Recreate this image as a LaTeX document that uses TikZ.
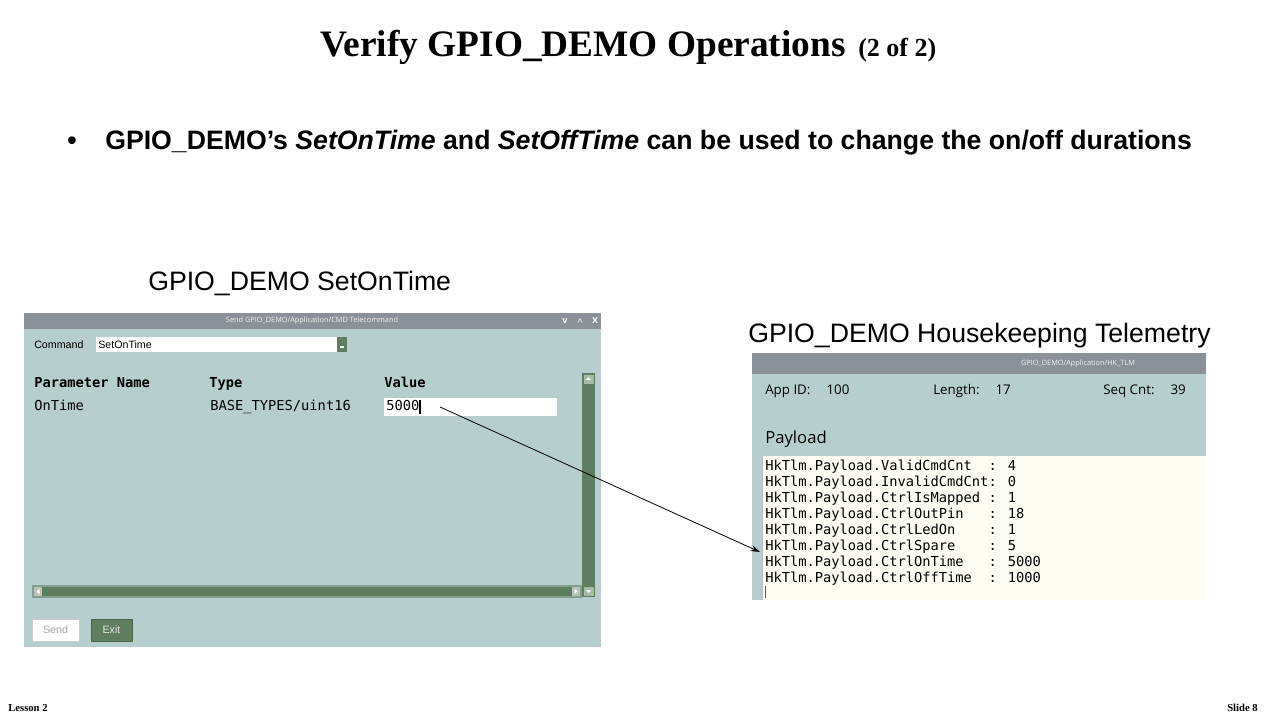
\documentclass[tikz,border=0pt]{standalone}
\usepackage{fontspec}
\setmainfont{Liberation Serif}
\setsansfont{Liberation Sans}
\newfontfamily\dvmono{DejaVu Sans Mono}
\newfontfamily\uisans{Open Sans}
\usetikzlibrary{arrows.meta}
\definecolor{winteal}{HTML}{B7CECF}
\definecolor{wingray}{HTML}{8A9198}
\definecolor{wingreen}{HTML}{5F7E5F}
\definecolor{wincream}{HTML}{FDFDF4}
\begin{document}
\begin{tikzpicture}[x=0.75pt,y=-0.75pt,
  txt/.style={inner sep=0pt, anchor=base west},
  mono/.style={txt, font=\dvmono\fontsize{10.3}{12}\selectfont},
  monob/.style={txt, font=\dvmono\bfseries\fontsize{10.3}{12}\selectfont},
  ui/.style={inner sep=0pt, anchor=west, font=\uisans\fontsize{10}{12}\selectfont},
  tiny/.style={inner sep=0pt, font=\uisans\fontsize{5.5}{6}\selectfont, text=white!90!gray},
  lbl/.style={txt, font=\sffamily\fontsize{20}{24}\selectfont}]
\useasboundingbox (0,0) rectangle (1280,720);
\fill[white] (0,0) rectangle (1280,720);

% title
\node[txt, font=\rmfamily\bfseries\fontsize{28}{32}\selectfont] (title) at (320,57) {Verify GPIO\_DEMO Operations};
\node[txt, font=\rmfamily\bfseries\fontsize{19.5}{22}\selectfont] (titlesub) at (858,57) {(2 of 2)};

% bullet
\node[txt, font=\sffamily\bfseries\fontsize{20}{24}\selectfont] (bul) at (67,150) {•};
\node[txt, font=\sffamily\bfseries\fontsize{20}{24}\selectfont] (bullet) at (105,150) {GPIO\_DEMO’s \textit{SetOnTime} and \textit{SetOffTime} can be used to change the on/off durations};

% captions
\node[lbl] (capL) at (148,290) {GPIO\_DEMO SetOnTime};
\node[lbl] (capR) at (748,342) {GPIO\_DEMO Housekeeping Telemetry};

% ---------- left window ----------
\fill[wingray] (24,313) rectangle (601,329);
\fill[winteal] (24,329) rectangle (601,647);
\node[tiny] (ltitle) at (312,321) {Send GPIO\_DEMO/Application/CMD Telecommand};
\node[inner sep=0pt, font=\sffamily\bfseries\fontsize{7}{8}\selectfont, text=white] (lmin) at (565,321) {v};
\node[inner sep=0pt, font=\sffamily\bfseries\fontsize{7}{8}\selectfont, text=white!80!gray] (lmax) at (580,322) {\^{}};
\node[inner sep=0pt, font=\sffamily\bfseries\fontsize{8}{8}\selectfont, text=white] (lclose) at (595,321) {x};

\node[ui, font=\sffamily\fontsize{8}{10}\selectfont] (cmdlbl) at (34,344.5) {Command};
\fill[white] (96,337) rectangle (337,352);
\node[ui, font=\sffamily\fontsize{8}{10}\selectfont] (cmdval) at (98,344.5) {SetOnTime};
\fill[wingreen] (337,337) rectangle (347,352);
\fill[white] (340,346) rectangle (344,348);

\node[monob] (hname) at (34,387) {Parameter Name};
\node[monob] (htype) at (209,387) {Type};
\node[monob] (hval) at (384,387) {Value};
\node[mono] (pname) at (34,410) {OnTime};
\node[mono] (ptype) at (210,410) {BASE\_TYPES/uint16};
\fill[white] (384,398) rectangle (557,416);
\node[mono] (pval) at (386,410) {5000};
\draw[black, line width=1pt] (420,400) -- (420,414);
\coordinate (valsrc) at (440,407);

% vertical scrollbar
\fill[wingreen] (582,373) rectangle (595,597);
\fill[wingreen!55!white] (583.5,374.5) rectangle (593.5,384);
\fill[white] (586,380) -- (588.5,377) -- (591,380) -- cycle;
\fill[wingreen!55!white] (583.5,587) rectangle (593.5,596);
\fill[white] (586,590) -- (588.5,593) -- (591,590) -- cycle;
% horizontal scrollbar
\fill[wingreen!60!winteal] (32,585) rectangle (582,598);
\fill[wingreen] (34,587) rectangle (580,596);
\fill[wingreen!45!white] (34,587) rectangle (42,596);
\fill[white] (39.5,589) -- (36.5,591.5) -- (39.5,594) -- cycle;
\fill[wingreen!45!white] (572,587) rectangle (580,596);
\fill[white] (574.5,589) -- (577.5,591.5) -- (574.5,594) -- cycle;

% buttons
\node[draw=gray!40, fill=white, minimum width=35pt, minimum height=16.5pt, inner sep=0pt, font=\sffamily\fontsize{8}{10}\selectfont, text=gray!70] (send) at (55.5,630) {Send};
\node[draw=wingreen!80!black, fill=wingreen, minimum width=30.5pt, minimum height=16.5pt, inner sep=0pt, font=\sffamily\fontsize{8}{10}\selectfont, text=white!80!wingreen] (exit) at (111.5,630) {Exit};

% ---------- right window ----------
\fill[wingray] (752,353) rectangle (1206,374);
\fill[winteal] (752,374) rectangle (1206,600);
\node[tiny] (rtitle) at (1078,364) {GPIO\_DEMO/Application/HK\_TLM};
\node[ui] (appid) at (765,391) {App ID:\hspace{1.2em}100};
\node[ui] (len) at (933,391) {Length:\hspace{1.2em}17};
\node[ui] (seq) at (1103,391) {Seq Cnt:\hspace{1.2em}39};
\node[ui, font=\uisans\fontsize{12.5}{14}\selectfont] (payload) at (765,439) {Payload};
\fill[wincream] (762,456) rectangle (1206,600);
\draw[gray!50] (762,456) -- (762,600);
\node[mono] (l1) at (765,470) {HkTlm.Payload.ValidCmdCnt\ \ : 4};
\node[mono] (l2) at (765,486) {HkTlm.Payload.InvalidCmdCnt: 0};
\node[mono] (l3) at (765,502) {HkTlm.Payload.CtrlIsMapped : 1};
\node[mono] (l4) at (765,518) {HkTlm.Payload.CtrlOutPin\ \ \ : 18};
\node[mono] (l5) at (765,534) {HkTlm.Payload.CtrlLedOn\ \ \ \ : 1};
\node[mono] (l6) at (765,550) {HkTlm.Payload.CtrlSpare\ \ \ \ : 5};
\node[mono] (l7) at (765,566) {HkTlm.Payload.CtrlOnTime\ \ \ : 5000};
\node[mono] (l8) at (765,582) {HkTlm.Payload.CtrlOffTime\ \ : 1000};
\draw[gray!70!black, line width=0.6pt] (765,586) -- (765,598);
\coordinate (tlmdst) at (760,552);

% arrow
\draw[-{Stealth[length=7pt,width=4.5pt]}, black, line width=0.6pt] (valsrc) -- (tlmdst);

% footer
\node[txt, font=\rmfamily\bfseries\fontsize{8}{9}\selectfont] (lesson) at (8,711) {Lesson 2};
\node[txt, font=\rmfamily\bfseries\fontsize{8}{9}\selectfont] (slide) at (1227,711) {Slide 8};
\end{tikzpicture}
\end{document}
